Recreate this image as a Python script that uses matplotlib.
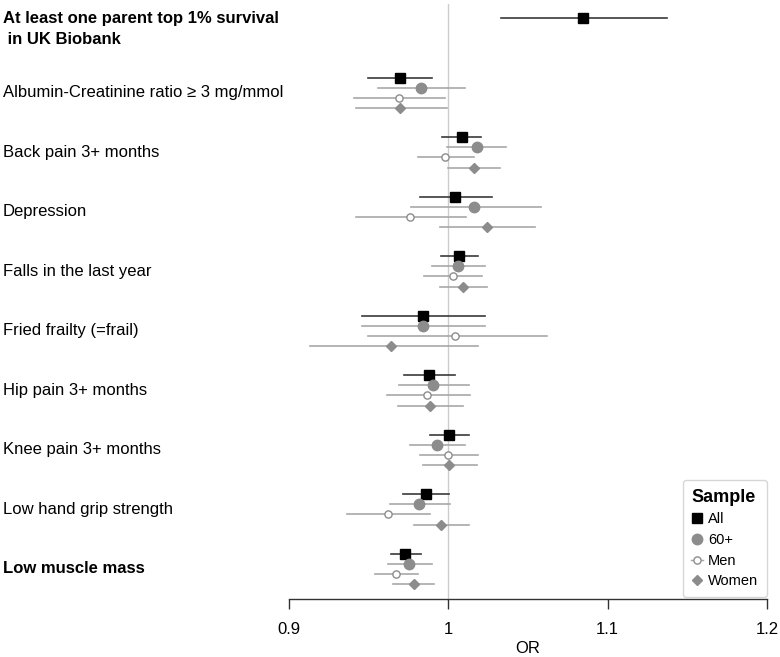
import matplotlib
matplotlib.use("Agg")
import matplotlib.pyplot as plt
from matplotlib.lines import Line2D
import numpy as np

plt.rcParams['font.family'] = ['Liberation Sans', 'DejaVu Sans']

outcomes = [
    "At least one parent top 1% survival\n in UK Biobank",
    "Albumin-Creatinine ratio \u2265 3 mg/mmol",
    "Back pain 3+ months",
    "Depression",
    "Falls in the last year",
    "Fried frailty (=frail)",
    "Hip pain 3+ months",
    "Knee pain 3+ months",
    "Low hand grip strength",
    "Low muscle mass",
]
bold_outcomes = [True, False, False, False, False, False, False, False, False, True]
samples = ["All", "60+", "Men", "Women"]

# OR, lower CI, upper CI per sample (None where absent)
or_all = [1.0845, 0.9694, 1.0083, 1.0043, 1.0070, 0.9838, 0.9880, 1.0005, 0.9857, 0.9731]
lo_all = [1.0333, 0.9497, 0.9961, 0.9821, 0.9953, 0.9460, 0.9723, 0.9884, 0.9717, 0.9641]
hi_all = [1.1374, 0.9897, 1.0202, 1.0275, 1.0185, 1.0233, 1.0041, 1.0130, 1.0005, 0.9826]

or_60 = [None, 0.9826, 1.0177, 1.0162, 1.0058, 0.9838, 0.9905, 0.9930, 0.9817, 0.9754]
lo_60 = [None, 0.9556, 0.9992, 0.9763, 0.9895, 0.9460, 0.9690, 0.9760, 0.9633, 0.9621]
hi_60 = [None, 1.0103, 1.0359, 1.0580, 1.0227, 1.0231, 1.0130, 1.0103, 1.0009, 0.9897]

or_men = [None, 0.9690, 0.9980, 0.9759, 1.0028, 1.0041, 0.9867, 1.0001, 0.9623, 0.9673]
lo_men = [None, 0.9410, 0.9809, 0.9422, 0.9848, 0.9495, 0.9612, 0.9823, 0.9366, 0.9539]
hi_men = [None, 0.9980, 1.0162, 1.0110, 1.0214, 1.0622, 1.0135, 1.0185, 0.9888, 0.9811]

or_women = [None, 0.9698, 1.0160, 1.0243, 1.0095, 0.9642, 0.9886, 1.0005, 0.9955, 0.9782]
lo_women = [None, 0.9420, 0.9999, 0.9949, 0.9947, 0.9130, 0.9685, 0.9840, 0.9784, 0.9654]
hi_women = [None, 0.9989, 1.0327, 1.0547, 1.0243, 1.0185, 1.0091, 1.0177, 1.0130, 0.9909]

x_ticks = [0.9, 1.0, 1.1, 1.2]
x_tick_labels = ["0.9", "1", "1.1", "1.2"]

GRAY_M = '#8c8c8c'
GRAY_L = '#a8a8a8'

st_all = dict(marker='s', ms=7.5, mfc='black', mec='black')
st_60 = dict(marker='o', ms=7.5, mfc=GRAY_M, mec=GRAY_M)
st_men = dict(marker='o', ms=5.2, mfc='white', mec=GRAY_M, mew=1.0)
st_women = dict(marker='D', ms=5.5, mfc=GRAY_M, mec=GRAY_M)

series = [
    (or_all, lo_all, hi_all, st_all, '#3a3a3a'),
    (or_60, lo_60, hi_60, st_60, GRAY_L),
    (or_men, lo_men, hi_men, st_men, GRAY_L),
    (or_women, lo_women, hi_women, st_women, GRAY_L),
]

FS = 12

fig = plt.figure(figsize=(7.8, 6.57), dpi=100)
# axes in pixel coordinates: x 289..767, y 4..599 (from top)
ax = fig.add_axes([289/780, 1-599/657, (767-289)/780, (599-4)/657])
ax.set_xlim(0.9, 1.2)
ax.set_ylim(599, 4)  # pixel-like y units, inverted

group_step = 59.5
sub_step = 10.2
top_y = 18

ax.axvline(1.0, color='#cccccc', lw=1.0, zorder=0)

for j, (orv, lo, hi, mstyle, lcol) in enumerate(series):
    for i in range(len(outcomes)):
        if orv[i] is None:
            continue
        y = top_y + group_step * i + sub_step * j
        ax.plot([lo[i], hi[i]], [y, y], color=lcol, lw=1.2, zorder=2)
        ax.plot([orv[i]], [y], linestyle='none', zorder=3, **mstyle)

# labels
for i, lab in enumerate(outcomes):
    if i == 0:
        first, second = lab.split("\n")
        fig.text(3/780, 1 - 18/657, first, fontsize=FS,
                 fontweight='bold', va='center', ha='left')
        fig.text(3/780, 1 - 40/657, second, fontsize=FS,
                 fontweight='bold', va='center', ha='left')
        continue
    yc = top_y + group_step * i + sub_step * 1.5
    fig.text(3/780, 1 - yc/657, lab, fontsize=FS,
             fontweight='bold' if bold_outcomes[i] else 'normal', va='center', ha='left')

# axes styling
for s in ['top', 'right', 'left']:
    ax.spines[s].set_visible(False)
ax.spines['bottom'].set_color('#333333')
ax.spines['bottom'].set_linewidth(1.0)
ax.set_yticks([])
ax.set_xticks(x_ticks)
ax.set_xticklabels(x_tick_labels, fontsize=FS)
ax.tick_params(axis='x', length=7, width=1.0, color='#333333', pad=9.5)
ax.set_xlabel("OR", fontsize=FS, labelpad=3)

handles = [
    Line2D([], [], linestyle='none', **st_all),
    Line2D([], [], linestyle='none', **st_60),
    Line2D([], [], color=GRAY_L, lw=1.0, **st_men),
    Line2D([], [], linestyle='none', **st_women),
]
leg = ax.legend(handles, samples, title="Sample", loc='lower right',
                bbox_to_anchor=(1.0, 0.0035), borderaxespad=0,
                fontsize=10.5, title_fontsize=13,
                frameon=True, fancybox=True, handlelength=0.8, handletextpad=0.35,
                borderpad=0.6, labelspacing=0.45, alignment='left')
leg.get_title().set_fontweight('bold')
leg.get_frame().set_edgecolor('#cccccc')
leg.get_frame().set_linewidth(1.0)

fig.savefig("out.png", dpi=100)
